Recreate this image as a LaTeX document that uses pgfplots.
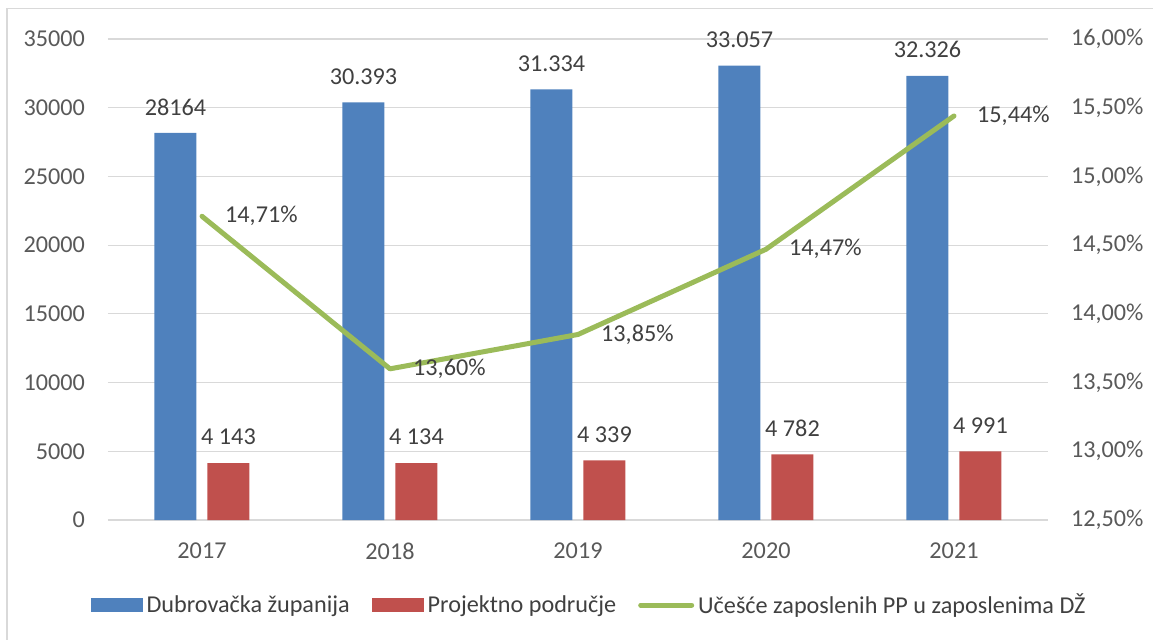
\documentclass[border=0pt]{standalone}
\usepackage{fontspec}
\setmainfont{Carlito}
\usepackage{pgfplots}
\pgfplotsset{compat=1.18}
\usepackage{pgfplotstable}
\definecolor{cblue}{HTML}{4F81BD}
\definecolor{cred}{HTML}{C0504D}
\definecolor{cgreen}{HTML}{9BBB59}
\definecolor{cgrid}{HTML}{D9D9D9}
\definecolor{ctick}{HTML}{595959}
\definecolor{clab}{HTML}{404040}

\pgfplotstableread{
x dz dzl pp ppl pct pctl
0 28164 28164 4143 {4 143} 14.71 {14,71}
1 30393 30.393 4134 {4 134} 13.60 {13,60}
2 31334 31.334 4339 {4 339} 13.85 {13,85}
3 33057 33.057 4782 {4 782} 14.47 {14,47}
4 32326 32.326 4991 {4 991} 15.44 {15,44}
}\data

\begin{document}
\begin{tikzpicture}[font=\fontsize{12.1}{14.5}\selectfont]
\useasboundingbox (0,0) rectangle (576.5pt,319.5pt);
\clip (0,0) rectangle (576.5pt,319.5pt);
\draw[cgrid, line width=0.8pt] (3.5pt,-10pt) -- (3.5pt,315.25pt) -- (600pt,315.25pt);

\begin{axis}[
  at={(54pt,59.5pt)}, anchor=south west,
  scale only axis, width=470pt, height=240.5pt,
  xmin=-0.5, xmax=4.5, ymin=0, ymax=35000,
  ytick={0,5000,...,35000},
  scaled y ticks=false,
  xtick={0,...,4}, xticklabels={2017,2018,2019,2020,2021},
  /pgf/number format/assume math mode=true,
  /pgf/number format/1000 sep={},
  axis line style={draw=none},
  major tick length=0pt,
  ymajorgrids, grid style={cgrid, line width=0.6pt},
  tick label style={text=ctick},
  yticklabel style={xshift=-8pt},
  xticklabel style={yshift=-8pt},
  ybar=5.5pt, bar width=21pt,
  nodes near coords, point meta=explicit symbolic,
  every node near coord/.append style={anchor=center, yshift=13pt, text=clab},
  legend columns=3,
  legend style={draw=none, fill=none, at={(-0.019,-0.177)}, anchor=west,
    /tikz/every even column/.append style={column sep=9pt},
    text=clab, inner sep=0pt},
  legend cell align=left,
]
\addplot[fill=cblue, draw=none,
  legend image code/.code={\fill[cblue] (0pt,-3.5pt) rectangle (26pt,3.5pt);}]
  table[x=x, y=dz, meta=dzl] {\data};
\addlegendentry{Dubrovačka županija}
\addplot[fill=cred, draw=none,
  legend image code/.code={\fill[cred] (0pt,-3.5pt) rectangle (26pt,3.5pt);}]
  table[x=x, y=pp, meta=ppl] {\data};
\addlegendentry{Projektno područje}
\addlegendimage{legend image code/.code={\draw[cgreen, line width=2.5pt, line cap=round] (1.5pt,0pt) -- (27pt,0pt);}}
\addlegendentry{Učešće zaposlenih PP u zaposlenima DŽ}
\end{axis}

\begin{axis}[
  at={(54pt,59.5pt)}, anchor=south west,
  scale only axis, width=470pt, height=240.5pt,
  xmin=-0.5, xmax=4.5, ymin=12.5, ymax=16,
  axis y line*=right, axis x line=none,
  ytick={12.5,13,...,16},
  yticklabel={\pgfmathprintnumber[fixed, fixed zerofill, precision=2, use comma]{\tick}\%},
  /pgf/number format/assume math mode=true,
  axis line style={draw=none},
  major tick length=0pt,
  tick label style={text=ctick},
  yticklabel style={xshift=8pt},
]
\addplot[cgreen, line width=2.5pt, line cap=round, line join=round, mark=none,
  nodes near coords={\pgfplotspointmeta\%}, point meta=explicit symbolic,
  every node near coord/.style={anchor=west, xshift=7pt, text=clab}]
  table[x=x, y=pct, meta=pctl] {\data};
\end{axis}
\end{tikzpicture}
\end{document}
